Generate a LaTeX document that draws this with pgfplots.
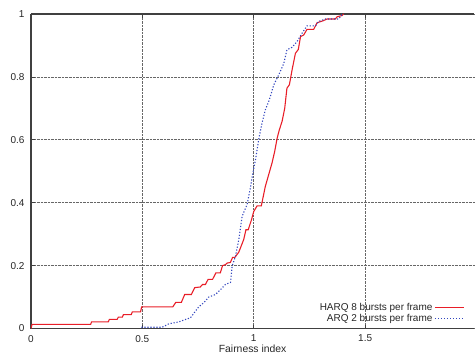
\documentclass[border=0pt]{standalone}
\usepackage{fontspec}
\setmainfont{Liberation Sans}
\usepackage{pgfplots}
\pgfplotsset{compat=1.18}
\definecolor{harq}{RGB}{232,30,40}
\definecolor{arq}{RGB}{50,70,190}
\begin{document}
\begin{tikzpicture}
\begin{axis}[
  scale only axis, width=444pt, height=315pt,
  xmin=0, xmax=1.99, ymin=0, ymax=1,
  xtick={0,0.5,1,1.5}, ytick={0,0.2,0.4,0.6,0.8,1},
  axis y line*=left,
  grid=major, major grid style={densely dotted, black!60, line width=0.6pt},
  axis line style={black!75, line width=1.4pt},
  tick style={black!75, line width=0.6pt}, major tick length=4pt,
  /pgf/number format/assume math mode=true,
  tick label style={font=\fontsize{10}{12}\selectfont, text=black!85},
  xticklabel style={yshift=-3pt},
  yticklabel style={xshift=-3pt},
  xlabel={Fairness index},
  xlabel style={font=\fontsize{10.4}{12}\selectfont, text=black!85,
    at={(axis description cs:0.5,-0.076)}, anchor=base},
  legend style={at={(0.985,0.005)}, anchor=south east, draw=none, fill=none,
    font=\fontsize{10}{10}\selectfont, row sep=-2pt, text=black!85},
  legend plot pos=right, legend cell align=right,
  legend image code/.code={\draw[#1] (0pt,0pt) -- (29pt,0pt);},
]
\addplot[harq, line width=1.1pt] coordinates {
(0,0) (0.005,0.013) (0.268,0.013) (0.272,0.021) (0.347,0.021) (0.352,0.029) (0.387,0.029) (0.392,0.036) (0.41,0.036) (0.415,0.044) (0.45,0.044) (0.455,0.053) (0.492,0.053) (0.497,0.069) (0.637,0.069) (0.65,0.083) (0.675,0.083) (0.69,0.108) (0.72,0.108) (0.735,0.13) (0.76,0.132) (0.77,0.14) (0.783,0.14) (0.795,0.156) (0.815,0.156) (0.83,0.177) (0.85,0.177) (0.86,0.2) (0.873,0.203) (0.88,0.208) (0.895,0.21) (0.905,0.226) (0.915,0.226) (0.933,0.243) (0.955,0.283) (0.965,0.314) (0.975,0.314) (0.99,0.346) (1.0,0.372) (1.015,0.39) (1.034,0.39) (1.052,0.452) (1.082,0.526) (1.094,0.563) (1.105,0.605) (1.115,0.632) (1.127,0.658) (1.139,0.7) (1.149,0.764) (1.16,0.775) (1.172,0.822) (1.187,0.875) (1.2,0.887) (1.21,0.928) (1.224,0.933) (1.239,0.951) (1.269,0.951) (1.284,0.972) (1.31,0.978) (1.329,0.984) (1.366,0.984) (1.374,0.991) (1.396,0.995) (1.404,1.0)
};
\addlegendentry{HARQ 8 bursts per frame}
\addplot[arq, line width=1.1pt, dash pattern=on 1.2pt off 1.8pt] coordinates {
(0.496,0.004) (0.589,0.004) (0.619,0.015) (0.664,0.021) (0.694,0.029) (0.716,0.034) (0.738,0.055) (0.753,0.069) (0.776,0.082) (0.798,0.1) (0.828,0.108) (0.851,0.124) (0.873,0.14) (0.896,0.147) (0.903,0.198) (0.918,0.23) (0.933,0.283) (0.948,0.357) (0.970,0.394) (0.985,0.447) (0.996,0.494) (1.008,0.537) (1.022,0.6) (1.037,0.653) (1.052,0.695) (1.07,0.727) (1.09,0.775) (1.112,0.806) (1.135,0.843) (1.149,0.886) (1.172,0.894) (1.194,0.912) (1.217,0.939) (1.239,0.962) (1.277,0.962) (1.291,0.976) (1.321,0.984) (1.381,0.984) (1.396,0.998)
};
\addlegendentry{ARQ 2 bursts per frame}
\coordinate (tl) at (rel axis cs:0,1);
\coordinate (bl) at (rel axis cs:0,0);
\end{axis}
\path (tl) ++(0,14pt);
\path (bl) ++(-31pt,-31pt);
\end{tikzpicture}
\end{document}
